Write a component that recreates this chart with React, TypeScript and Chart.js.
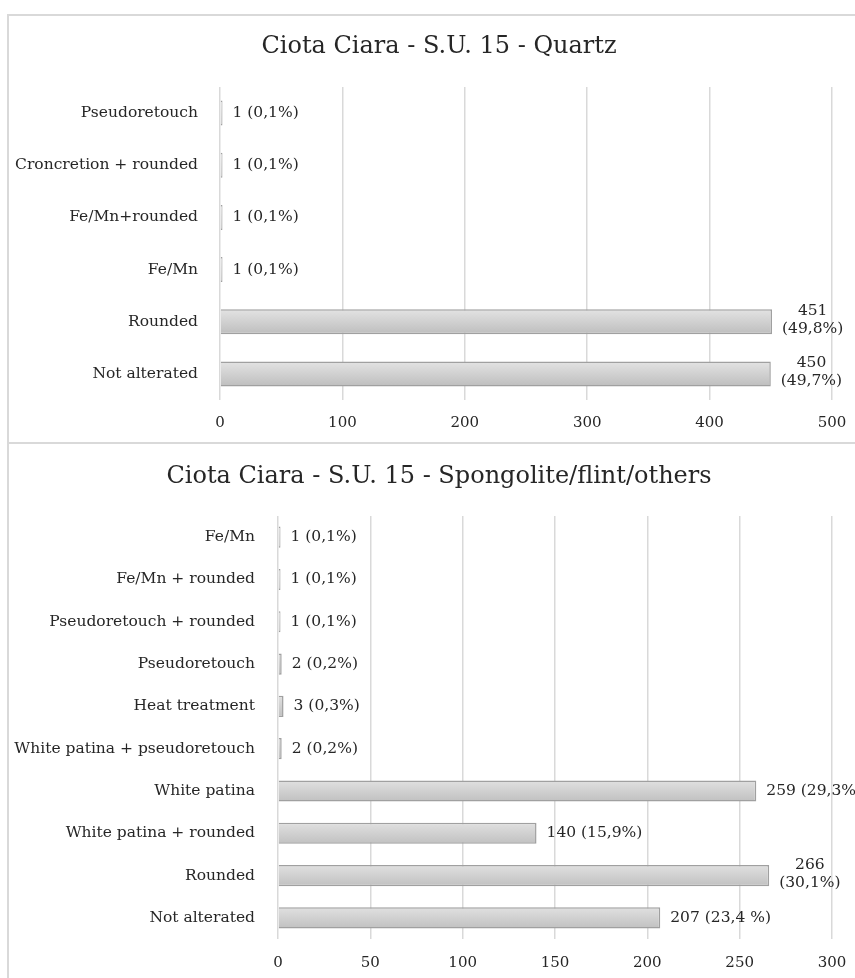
import React, { useEffect, useRef } from "react";
import { Chart, registerables } from "chart.js";

Chart.register(...registerables);

// ---------- data ----------
const quartzTitle = "Ciota Ciara - S.U. 15 - Quartz";
const quartzCategories = [
  "Pseudoretouch",
  "Croncretion + rounded",
  "Fe/Mn+rounded",
  "Fe/Mn",
  "Rounded",
  "Not alterated",
];
const quartzValues = [1, 1, 1, 1, 451, 450];
const quartzLabels: string[][] = [
  ["1 (0,1%)"],
  ["1 (0,1%)"],
  ["1 (0,1%)"],
  ["1 (0,1%)"],
  ["451", "(49,8%)"],
  ["450", "(49,7%)"],
];
const quartzMax = 500;
const quartzStep = 100;

const flintTitle = "Ciota Ciara - S.U. 15 - Spongolite/flint/others";
const flintCategories = [
  "Fe/Mn",
  "Fe/Mn + rounded",
  "Pseudoretouch + rounded",
  "Pseudoretouch",
  "Heat treatment",
  "White patina + pseudoretouch",
  "White patina",
  "White patina + rounded",
  "Rounded",
  "Not alterated",
];
const flintValues = [1, 1, 1, 2, 3, 2, 259, 140, 266, 207];
const flintLabels: string[][] = [
  ["1 (0,1%)"],
  ["1 (0,1%)"],
  ["1 (0,1%)"],
  ["2 (0,2%)"],
  ["3 (0,3%)"],
  ["2 (0,2%)"],
  ["259 (29,3%)"],
  ["140 (15,9%)"],
  ["266", "(30,1%)"],
  ["207 (23,4 %)"],
];
const flintMax = 300;
const flintStep = 50;

// ---------- styles ----------
const FONT = "'DejaVu Serif', 'Liberation Serif', serif";
const TEXT = "#262626";
const GRID = "#d9d9d9";
const LABEL_SIZE = 15.5;
const TITLE_SIZE = 24;
const TITLE_CX = 439;

type BarProps = {
  title: string;
  categories: string[];
  values: number[];
  labels: string[][];
  max: number;
  step: number;
  top: number;
  height: number;
  yWidth: number;
  xHeight: number;
  titleY: number;
  plotTop: number;
  barPct: number;
  yPad: number;
  xPad: number;
};

const titlePlugin = (text: string, y: number) => ({
  id: "boxTitle",
  afterDraw(chart: any) {
    const ctx = chart.ctx as CanvasRenderingContext2D;
    ctx.save();
    ctx.font = `${TITLE_SIZE}px ${FONT}`;
    ctx.fillStyle = TEXT;
    ctx.textAlign = "center";
    ctx.textBaseline = "middle";
    ctx.fillText(text, TITLE_CX, y);
    ctx.restore();
  },
});

const labelPlugin = (labels: string[][]) => ({
  id: "valueLabels",
  afterDatasetsDraw(chart: any) {
    const ctx = chart.ctx as CanvasRenderingContext2D;
    const meta = chart.getDatasetMeta(0);
    ctx.save();
    ctx.font = `${LABEL_SIZE}px ${FONT}`;
    ctx.fillStyle = TEXT;
    ctx.textBaseline = "middle";
    meta.data.forEach((el: any, i: number) => {
      const lines = labels[i] || [];
      const maxW = Math.max(...lines.map((l) => ctx.measureText(l).width));
      const left = Math.max(el.x, chart.chartArea.left + 2) + 10;
      const cx = left + maxW / 2;
      const lh = 18;
      const y0 = el.y - ((lines.length - 1) * lh) / 2 - (lines.length > 1 ? 2 : 0);
      ctx.textAlign = lines.length > 1 ? "center" : "left";
      lines.forEach((l, k) => {
        ctx.fillText(l, lines.length > 1 ? cx : left, y0 + k * lh);
      });
    });
    ctx.restore();
  },
});

function BarChart(p: BarProps) {
  const ref = useRef<HTMLCanvasElement | null>(null);
  useEffect(() => {
    if (!ref.current) return;
    const chart = new Chart(ref.current, {
      type: "bar",
      data: {
        labels: p.categories,
        datasets: [
          {
            data: p.values,
            backgroundColor: (c: any) => {
              const ch = c.chart;
              const ys = ch.scales && ch.scales.y;
              if (!ys || c.dataIndex === undefined) return "#d0d0d0";
              const y = ys.getPixelForValue(c.dataIndex);
              if (!Number.isFinite(y)) return "#d0d0d0";
              const h = 13;
              const g = ch.ctx.createLinearGradient(0, y - h, 0, y + h);
              g.addColorStop(0, "#e4e4e4");
              g.addColorStop(1, "#bdbdbd");
              return g;
            },
            borderColor: "#a0a0a0",
            borderWidth: 1.5,
            minBarLength: 2.5,
            barPercentage: p.barPct,
            categoryPercentage: 1,
          },
        ],
      },
      options: {
        indexAxis: "y",
        responsive: false,
        animation: false,
        layout: { padding: { left: 0, right: 48, top: p.plotTop, bottom: 0 } },
        plugins: {
          legend: { display: false },
          tooltip: { enabled: false },
          title: { display: false },
        },
        scales: {
          x: {
            min: 0,
            max: p.max,
            ticks: {
              stepSize: p.step,
              padding: p.xPad,
              color: TEXT,
              font: { family: FONT, size: 15 },
            },
            grid: { color: GRID, lineWidth: 1.5, drawTicks: false },
            border: { display: false },
            afterFit: (s: any) => {
              s.height = p.xHeight;
            },
          },
          y: {
            grid: { display: false },
            border: { display: false },
            ticks: {
              autoSkip: false,
              padding: p.yPad,
              color: TEXT,
              font: { family: FONT, size: LABEL_SIZE },
            },
            afterFit: (s: any) => {
              s.width = p.yWidth;
            },
          },
        },
      } as any,
      plugins: [labelPlugin(p.labels), titlePlugin(p.title, p.titleY)],
    });
    return () => chart.destroy();
  }, []);
  return (
    <canvas
      ref={ref}
      width={880}
      height={p.height}
      style={{ position: "absolute", left: 0, top: p.top, width: 880, height: p.height }}
    />
  );
}

export default function App() {
  return (
    <div
      style={{
        position: "absolute",
        left: 0,
        top: 0,
        width: 855,
        height: 978,
        overflow: "hidden",
        background: "#ffffff",
      }}
    >
      <div
        style={{
          position: "absolute",
          left: 7,
          top: 14,
          width: 900,
          height: 428,
          borderLeft: `2px solid ${GRID}`,
          borderTop: `2px solid ${GRID}`,
        }}
      />
      <div
        style={{
          position: "absolute",
          left: 7,
          top: 442,
          width: 900,
          height: 600,
          borderLeft: `2px solid ${GRID}`,
          borderTop: `2px solid ${GRID}`,
        }}
      />
      <BarChart
        title={quartzTitle}
        categories={quartzCategories}
        values={quartzValues}
        labels={quartzLabels}
        max={quartzMax}
        step={quartzStep}
        top={15}
        height={428}
        yWidth={220}
        xHeight={43}
        titleY={32}
        plotTop={72}
        barPct={0.48}
        yPad={14}
        xPad={14}
      />
      <BarChart
        title={flintTitle}
        categories={flintCategories}
        values={flintValues}
        labels={flintLabels}
        max={flintMax}
        step={flintStep}
        top={443}
        height={535}
        yWidth={278}
        xHeight={39}
        titleY={34}
        plotTop={73}
        barPct={0.5}
        yPad={15}
        xPad={15}
      />
    </div>
  );
}
